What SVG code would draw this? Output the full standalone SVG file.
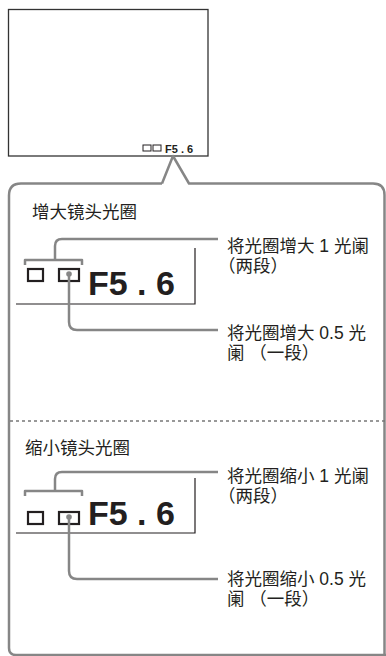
<svg xmlns="http://www.w3.org/2000/svg" width="386" height="656" viewBox="0 0 386 656">
<style>
.t{font-family:"Liberation Sans","Noto Sans CJK SC",sans-serif;font-size:17.5px;fill:#231f20}
.big{font-family:"Liberation Sans",Arial,sans-serif;font-weight:bold;font-size:34px;fill:#231f20}
.gl{fill:none;stroke:#868686;stroke-width:2.5;stroke-linejoin:round}
.sq{fill:none;stroke:#231f20;stroke-width:2.2}
.box{fill:none;stroke:#231f20;stroke-width:1.2}
.dot{fill:#868686}
</style>
<rect width="386" height="656" fill="#fff"/>
<g id="screen">
<rect x="8.5" y="9.5" width="199.5" height="146.5" fill="none" stroke="#333" stroke-width="1.3"/>
<rect x="143" y="145" width="8" height="6" fill="none" stroke="#231f20" stroke-width="1"/>
<rect x="153" y="145" width="8" height="6" fill="none" stroke="#231f20" stroke-width="1"/>
<text x="165" y="153" font-family="Liberation Sans,sans-serif" font-weight="bold" font-size="11" fill="#231f20">F5 . 6</text>
</g>
<g id="bubble">
<path class="gl" d="M162,183.5 L173,156 L189,183.5 L373,183.5 Q384.5,183.5 384.5,195 L384.5,656 M162,183.5 L21,183.5 Q9,183.5 9,195.5 L9,648 Q9,655 16,655 L386,655"/>
<line x1="10" y1="421" x2="386" y2="421" stroke="#777" stroke-width="1.3" stroke-dasharray="3,3"/>
</g>
<g id="increase">
<text class="t" x="32" y="217.5">增大镜头光圈</text>
<path class="box" d="M195,248 L195,304 L16,304"/>
<rect class="sq" x="28" y="269" width="15" height="12"/>
<rect class="sq" x="59" y="269" width="20" height="12"/>
<text class="big" x="88" y="295">F5 . 6</text>
<text class="t" x="227" y="251.5">将光圈增大 1 光阑</text>
<text class="t" x="218" y="271.5">（两段）</text>
<text class="t" x="227" y="338.5">将光圈增大 0.5 光</text>
<text class="t" x="227" y="358.5">阑 （一段）</text>
</g>
<g id="decrease">
<text class="t" x="25" y="453.5">缩小镜头光圈</text>
<path class="box" d="M195,478 L195,533 L16,533"/>
<rect class="sq" x="28" y="512" width="15" height="12"/>
<rect class="sq" x="59" y="512" width="20" height="12"/>
<text class="big" x="88" y="525">F5 . 6</text>
<text class="t" x="227" y="481.5">将光圈缩小 1 光阑</text>
<text class="t" x="218" y="501.5">（两段）</text>
<text class="t" x="227" y="585">将光圈缩小 0.5 光</text>
<text class="t" x="227" y="605">阑 （一段）</text>
</g>
<g id="connectors">
<path class="gl" d="M25,265 L25,260 L82,260 L82,265 M55,260 L55,246 Q55,239 62,239 L218,239"/>
<circle class="dot" cx="69" cy="274" r="2.8"/>
<path class="gl" d="M69,274 L69,322 Q69,330 77,330 L218,330"/>
<path class="gl" d="M25,496 L25,491 L82,491 L82,496 M55,491 L55,479 Q55,472 62,472 L218,472"/>
<circle class="dot" cx="69" cy="517" r="2.8"/>
<path class="gl" d="M69,517 L69,571 Q69,579 77,579 L218,579"/>
</g>
</svg>
